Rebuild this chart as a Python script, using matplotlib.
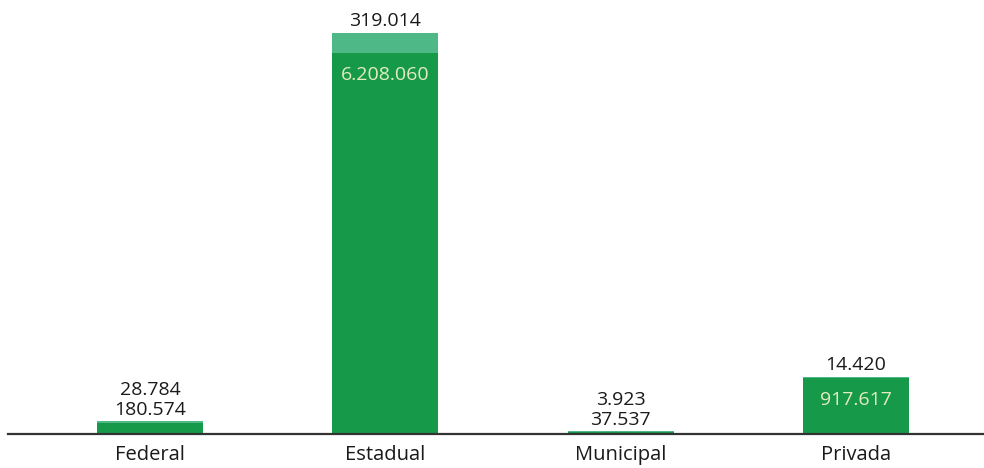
import matplotlib
matplotlib.use("Agg")
import matplotlib.pyplot as plt

# ===== DATA =====
categories = ["Federal", "Estadual", "Municipal", "Privada"]
base_values = [180574, 6208060, 37537, 917617]
top_values = [28784, 319014, 3923, 14420]
base_labels = ["180.574", "6.208.060", "37.537", "917.617"]
top_labels = ["28.784", "319.014", "3.923", "14.420"]
inside = [False, True, False, True]  # base label drawn inside the bar

DARK = "#17994a"
LIGHT = "#4fb887"
INNER_TXT = "#e4edbd"
TXT = "#1a1a1a"

plt.rcParams["font.family"] = ["Open Sans", "DejaVu Sans"]

fig = plt.figure(figsize=(9.84, 4.68), dpi=100)
ax = fig.add_axes([8 / 984, 34 / 468, 976 / 984, 434 / 468])

x = list(range(len(categories)))
width = 0.45
ax.bar(x, base_values, width=width, color=DARK, linewidth=0)
ax.bar(x, top_values, width=width, bottom=base_values, color=LIGHT, linewidth=0)

ax.set_xlim(-0.604, 3.544)
ax.set_ylim(0, 7.064e6)

for i in x:
    total = base_values[i] + top_values[i]
    ax.annotate(top_labels[i], (i, total), xytext=(0, 12) if inside[i] else (0, 31),
                textcoords="offset pixels", ha="center", va="center",
                fontsize=14, color=TXT)
    if inside[i]:
        ax.annotate(base_labels[i], (i, base_values[i]), xytext=(0, -22),
                    textcoords="offset pixels", ha="center", va="center",
                    fontsize=14, color=INNER_TXT)
    else:
        ax.annotate(base_labels[i], (i, total), xytext=(0, 11),
                    textcoords="offset pixels", ha="center", va="center",
                    fontsize=14, color=TXT)
    ax.annotate(categories[i], (i, 0), xytext=(0, -21),
                textcoords="offset pixels", ha="center", va="center",
                fontsize=14.5, color=TXT)

for s in ["top", "right", "left"]:
    ax.spines[s].set_visible(False)
ax.spines["bottom"].set_color("#333333")
ax.spines["bottom"].set_linewidth(1.6)
ax.set_yticks([])
ax.set_xticks([])

fig.savefig("out.png", dpi=100, facecolor="white")
